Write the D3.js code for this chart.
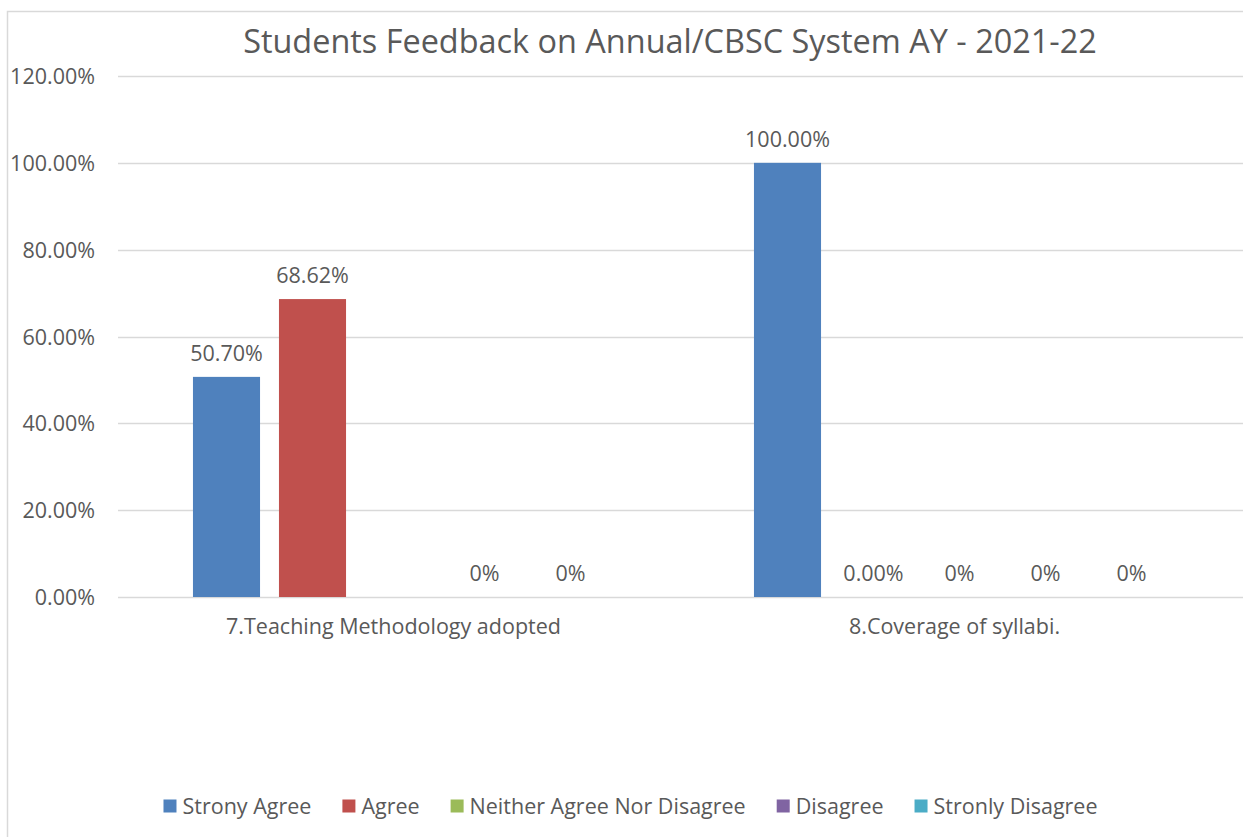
<!DOCTYPE html>
<html>
<head>
<meta charset="utf-8">
<script src="https://cdn.jsdelivr.net/npm/d3@7/dist/d3.min.js"></script>
<style>
  html, body { margin: 0; padding: 0; background: #fff; }
  svg { display: block; }
  text { font-family: "Open Sans", "Noto Sans", sans-serif; fill: #595959; }
</style>
</head>
<body>
<svg id="chart" width="1243" height="837"></svg>
<script>
// ---- data ----
const title = "Students Feedback on Annual/CBSC System AY - 2021-22";
const categories = ["7.Teaching Methodology adopted", "8.Coverage of syllabi."];
const seriesNames = ["Strony Agree", "Agree", "Neither Agree Nor Disagree", "Disagree", "Stronly Disagree"];
const seriesColors = ["#4F81BD", "#C0504D", "#9BBB59", "#8064A2", "#4BACC6"];
// values per category, in series order (null = no value)
const teachingValues = [0.5070, 0.6862, null, 0, 0];
const coverageValues = [1.0000, 0, 0, 0, 0];
// data label texts as shown
const teachingLabels = ["50.70%", "68.62%", "", "0%", "0%"];
const coverageLabels = ["100.00%", "0.00%", "0%", "0%", "0%"];
const yTicks = [0, 0.2, 0.4, 0.6, 0.8, 1.0, 1.2];
const yTickLabels = ["0.00%", "20.00%", "40.00%", "60.00%", "80.00%", "100.00%", "120.00%"];

const valuesByCat = [teachingValues, coverageValues];
const labelsByCat = [teachingLabels, coverageLabels];

// ---- layout ----
const svg = d3.select("#chart");
const plot = { left: 118, right: 1240, top: 76, bottom: 597 };
const fs = 21.5;

// chart border
svg.append("rect")
  .attr("x", 7.5).attr("y", 11.5)
  .attr("width", 1400).attr("height", 900)
  .attr("fill", "none").attr("stroke", "#D9D9D9").attr("stroke-width", 1.5);

const x0 = d3.scaleBand().domain(categories).range([plot.left, plot.right]).padding(0);
const groupHalf = 215;
const x1 = d3.scaleBand().domain(seriesNames).range([-groupHalf, groupHalf])
  .paddingInner(0.22).paddingOuter(0.11);
const y = d3.scaleLinear().domain([0, 1.2]).range([plot.bottom, plot.top]);

// gridlines
svg.append("g").selectAll("line").data(yTicks).join("line")
  .attr("x1", plot.left).attr("x2", 1243)
  .attr("y1", d => Math.round(y(d)) + 0.5).attr("y2", d => Math.round(y(d)) + 0.5)
  .attr("stroke", "#D9D9D9").attr("stroke-width", 1.5);

// y tick labels
svg.append("g").selectAll("text").data(yTicks).join("text")
  .attr("x", 95).attr("y", d => y(d) + 8)
  .attr("text-anchor", "end").attr("font-size", fs)
  .text((d, i) => yTickLabels[i]);

// bars
const groups = svg.append("g").selectAll("g").data(categories).join("g")
  .attr("transform", c => `translate(${x0(c) + x0.bandwidth() / 2},0)`);

groups.selectAll("rect")
  .data((c, ci) => seriesNames.map((s, si) => ({ s, si, v: valuesByCat[ci][si] })))
  .join("rect")
  .filter(d => d.v !== null && d.v > 0)
  .attr("x", d => x1(d.s)).attr("width", x1.bandwidth())
  .attr("y", d => y(d.v)).attr("height", d => y(0) - y(d.v))
  .attr("fill", d => seriesColors[d.si]);

// data labels
groups.selectAll("text.lbl")
  .data((c, ci) => seriesNames.map((s, si) => ({ s, si, v: valuesByCat[ci][si], t: labelsByCat[ci][si] })))
  .join("text").attr("class", "lbl")
  .filter(d => d.v !== null)
  .attr("x", d => x1(d.s) + x1.bandwidth() / 2)
  .attr("y", d => y(d.v) - 16)
  .attr("text-anchor", "middle").attr("font-size", fs)
  .text(d => d.t);

// category labels
svg.append("g").selectAll("text").data(categories).join("text")
  .attr("x", c => x0(c) + x0.bandwidth() / 2 - 5).attr("y", 634)
  .attr("text-anchor", "middle").attr("font-size", fs)
  .text(c => c);

// title
const t = svg.append("text").attr("x", 670).attr("y", 53)
  .attr("text-anchor", "middle").attr("font-size", 32).text(title);
const tw = t.node().getComputedTextLength();
t.attr("font-size", 32 * 854 / tw);

// legend
const legend = svg.append("g");
const legendGap = 31;
let lx = 0;
seriesNames.forEach((s, i) => {
  const g = legend.append("g");
  g.append("rect").attr("x", 0).attr("y", -6.5).attr("width", 13).attr("height", 13).attr("fill", seriesColors[i]);
  const tx = g.append("text").attr("x", 19).attr("y", 7.5).attr("font-size", fs).text(s);
  const w = 19 + tx.node().getComputedTextLength();
  g.attr("transform", `translate(${lx},0)`);
  lx += w + legendGap;
});
const legendWidth = lx - legendGap;
legend.attr("transform", `translate(${630.5 - legendWidth / 2},806)`);
</script>
</body>
</html>
